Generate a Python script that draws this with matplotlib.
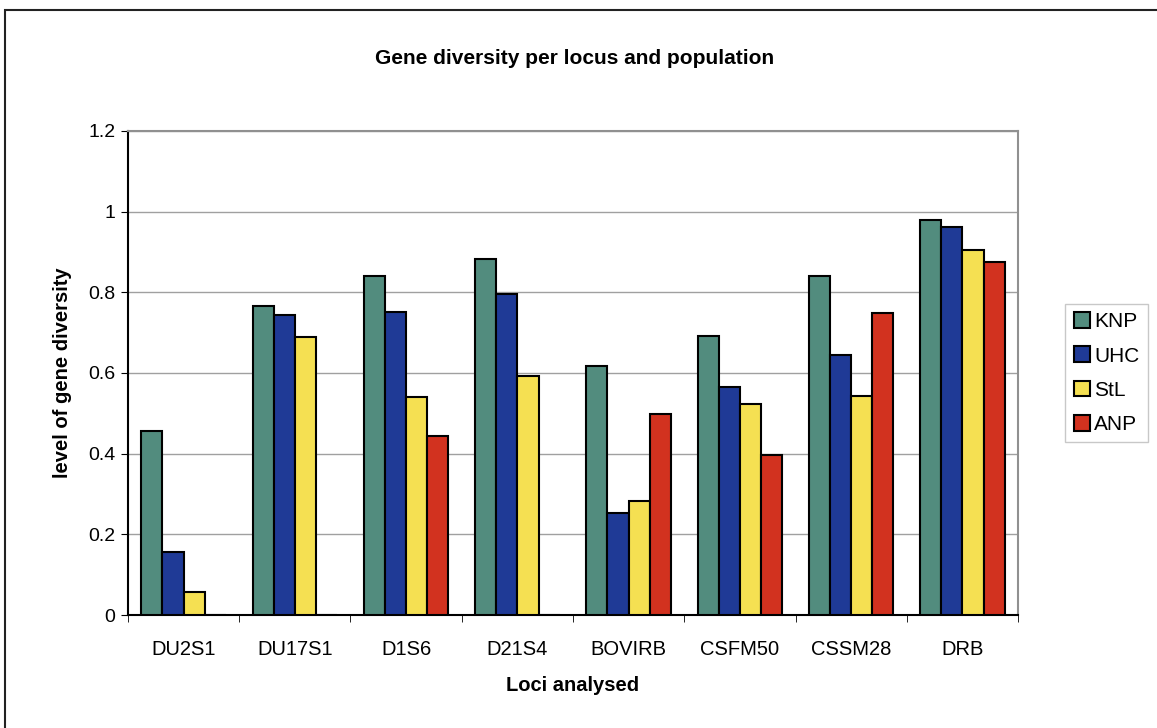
import numpy as np
import matplotlib.pyplot as plt
from matplotlib.patches import Rectangle

plt.rcParams['font.family'] = ['Liberation Sans', 'DejaVu Sans']

# Data
loci = ['DU2S1', 'DU17S1', 'D1S6', 'D21S4', 'BOVIRB', 'CSFM50', 'CSSM28', 'DRB']
populations = ['KNP', 'UHC', 'StL', 'ANP']
knp = [0.455, 0.765, 0.841, 0.883, 0.617, 0.692, 0.841, 0.979]
uhc = [0.155, 0.744, 0.752, 0.797, 0.252, 0.566, 0.644, 0.961]
stl = [0.057, 0.690, 0.540, 0.593, 0.283, 0.522, 0.543, 0.904]
anp = [0.0, 0.0, 0.444, 0.0, 0.498, 0.397, 0.748, 0.876]
colors = ['#528c7e', '#1f3a96', '#f5e052', '#d2321f']

fig = plt.figure(figsize=(11.57, 7.28), dpi=100)
ax = fig.add_axes([0.1106, 0.1552, 0.7693, 0.6649])

# outer frame
fig.patches.append(Rectangle((5 / 1157, -0.01), 1.1, (728 - 10) / 728 + 0.01,
                             transform=fig.transFigure, fill=False,
                             edgecolor='#222222', linewidth=1.5))

x = np.arange(len(loci))
w = 0.19
series = [knp, uhc, stl, anp]
for i, (vals, name) in enumerate(zip(series, populations)):
    ax.bar(x + (i - 1.5) * w, vals, width=w, color=colors[i], edgecolor='black',
           linewidth=1.5, label=name, zorder=3)

ax.set_xlim(-0.5, len(loci) - 0.5)
ax.set_ylim(0, 1.2)
ax.set_yticks(np.arange(0, 1.21, 0.2))
ax.set_yticklabels(['0', '0.2', '0.4', '0.6', '0.8', '1', '1.2'], fontsize=14)
ax.yaxis.grid(True, color='#a0a0a0', linewidth=1, zorder=0)

ax.set_xticks(x)
ax.set_xticklabels(loci, fontsize=14.5)
ax.tick_params(axis='x', length=0, pad=18)
ax.set_xticks(np.arange(-0.5, len(loci)), minor=True)
ax.tick_params(axis='x', which='minor', length=5, direction='out', color='black')
ax.tick_params(axis='y', length=5, direction='out', pad=4)

for s in ['top', 'right']:
    ax.spines[s].set_color('#909090')
    ax.spines[s].set_linewidth(1.5)
ax.spines['left'].set_linewidth(1.5)
ax.spines['bottom'].set_linewidth(1.5)

ax.set_xlabel('Loci analysed', fontsize=14.5, fontweight='bold', labelpad=12)
ax.set_ylabel('level of gene diversity', fontsize=14.5, fontweight='bold', labelpad=12)
fig.text(0.497, 0.92, 'Gene diversity per locus and population', ha='center',
         va='center', fontsize=15, fontweight='bold')

leg = ax.legend(loc='upper left', bbox_to_anchor=(1.053, 0.643), fontsize=15,
                frameon=True, fancybox=False, edgecolor='#bbbbbb',
                handlelength=0.8, handleheight=0.8, handletextpad=0.2,
                labelspacing=0.72, borderpad=0.4, borderaxespad=0)

fig.savefig('out.png', dpi=100)
